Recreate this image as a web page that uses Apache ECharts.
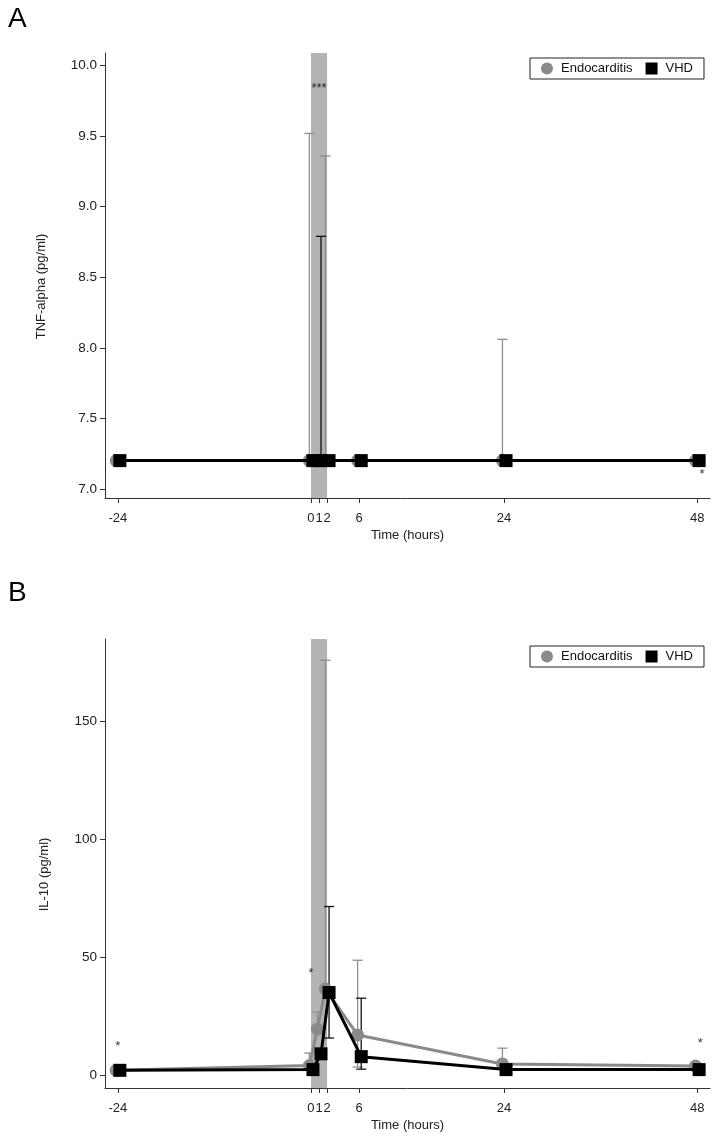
<!DOCTYPE html>
<html><head><meta charset="utf-8">
<script src="https://cdn.jsdelivr.net/npm/echarts@6/dist/echarts.min.js"></script>
<style>html,body{margin:0;padding:0;background:#fff}#c{width:714px;height:1142px}</style>
</head><body><div id="c"></div>
<script>
// ---- data ----
const timePoints = [-24, 0, 1, 2, 6, 24, 48];
const xTickLabels = ['-24', '0', '1', '2', '6', '24', '48'];
const seriesNames = ['Endocarditis', 'VHD'];

const tnfEndo = [7.2, 7.2, 7.2, 7.2, 7.2, 7.2, 7.2];
const tnfVhd = [7.2, 7.2, 7.2, 7.2, 7.2, 7.2, 7.2];
const tnfEndoUpper = [null, 9.52, null, 9.36, null, 8.06, null];
const tnfEndoLower = [null, null, null, null, null, null, null];
const tnfVhdUpper = [null, null, 8.79, null, null, null, null];
const tnfVhdLower = [null, null, null, null, null, null, null];
const tnfYTicks = [7.0, 7.5, 8.0, 8.5, 9.0, 9.5, 10.0];
const tnfStars = [[1, 9.84, '***'], [48.6, 7.1, '*']];

const il10Endo = [2.0, 4.0, 19.5, 36.5, 17.0, 4.7, 3.8];
const il10Vhd = [2.0, 2.3, 9.0, 35.0, 7.8, 2.3, 2.3];
const il10EndoUpper = [null, 9.3, 26.7, 176, 48.7, 11.4, null];
const il10EndoLower = [null, null, null, null, 3.4, null, null];
const il10VhdUpper = [null, null, null, 71.5, 32.6, null, null];
const il10VhdLower = [null, null, null, 15.7, 2.5, null, null];
const il10YTicks = [0, 50, 100, 150];
const il10Stars = [[-24, 12.3, '*'], [0, 43, '*'], [48.4, 13.5, '*']];

const surgeryWindow = [[0, 2]];

// ---- styling ----
const FONT = 'Liberation Sans, Arial, sans-serif';
const ENDO_COLOR = '#8a8a8a';
const VHD_COLOR = '#000000';
const ENDO_ERR = '#8f8f8f';
const VHD_ERR = '#111111';
const BAND = '#b3b3b3';
const ENDO_DX = -0.2, VHD_DX = 0.25;

function pts(vals, dx) { return timePoints.map((t, i) => [t + dx, vals[i]]); }
function errData(mean, up, lo, dx) {
  const out = [];
  timePoints.forEach((t, i) => {
    if (up[i] != null) {
      const bottom = lo[i] != null ? lo[i] : mean[i];
      out.push([t + dx, bottom, up[i], lo[i] != null ? 1 : 0]);
    } else if (lo[i] != null) {
      out.push([t + dx, lo[i], mean[i], 2]);
    }
  });
  return out;
}
function errSeries(idx, data, color) {
  return {
    type: 'custom', xAxisIndex: idx, yAxisIndex: idx, z: 2, silent: true,
    data: data,
    renderItem: function (params, api) {
      const x = api.value(0), lo = api.value(1), hi = api.value(2), mode = api.value(3);
      const p1 = api.coord([x, lo]), p2 = api.coord([x, hi]);
      const cw = 5;
      const st = { stroke: color, lineWidth: 1.3 };
      const ch = [{ type: 'line', shape: { x1: p1[0], y1: p1[1], x2: p2[0], y2: p2[1] }, style: st }];
      if (mode !== 2) ch.push({ type: 'line', shape: { x1: p2[0] - cw, y1: p2[1], x2: p2[0] + cw, y2: p2[1] }, style: st });
      if (mode >= 1) ch.push({ type: 'line', shape: { x1: p1[0] - cw, y1: p1[1], x2: p1[0] + cw, y2: p1[1] }, style: st });
      return { type: 'group', children: ch };
    }
  };
}
function bandSeries(idx) {
  return {
    type: 'custom', xAxisIndex: idx, yAxisIndex: idx, z: 1, silent: true,
    data: surgeryWindow,
    renderItem: function (params, api) {
      const cs = params.coordSys;
      const a = api.coord([api.value(0), 0])[0];
      const b = api.coord([api.value(1), 0])[0];
      return { type: 'rect', shape: { x: a, y: cs.y, width: b - a, height: cs.height }, style: { fill: BAND } };
    }
  };
}
function starSeries(idx, data) {
  return {
    type: 'scatter', xAxisIndex: idx, yAxisIndex: idx, z: 6, silent: true,
    symbolSize: 0, data: data.map(d => ({ value: [d[0], d[1]], label: { formatter: d[2] } })),
    label: { show: true, position: 'inside', fontFamily: FONT, fontSize: 13, color: '#000' }
  };
}
function lineSeries(name, idx, data, color, symbol) {
  return {
    name: name, type: 'line', xAxisIndex: idx, yAxisIndex: idx,
    z: name === 'VHD' ? 5 : 4,
    data: data, symbol: symbol, symbolSize: 13, showSymbol: true,
    itemStyle: { color: color, borderWidth: 0 },
    lineStyle: { color: color, width: 3 },
    emphasis: { disabled: true }
  };
}
function xAxis(idx) {
  return {
    type: 'value', gridIndex: idx, min: -25.6, max: 49.6,
    name: 'Time (hours)', nameLocation: 'middle', nameGap: 31,
    nameTextStyle: { fontFamily: FONT, fontSize: 13, color: '#222' },
    axisLine: { show: true, onZero: false, lineStyle: { color: '#333', width: 1 } },
    axisTick: { show: true, length: 5, customValues: timePoints, lineStyle: { color: '#333' } },
    axisLabel: { customValues: timePoints, hideOverlap: false, margin: 14, fontFamily: FONT, fontSize: 13, color: '#222',
      formatter: v => xTickLabels[timePoints.indexOf(v)] },
    splitLine: { show: false }
  };
}
function yAxis(idx, name, min, max, ticks, digits, gap) {
  return {
    type: 'value', gridIndex: idx, min: min, max: max,
    name: name, nameLocation: 'middle', nameGap: gap,
    nameTextStyle: { fontFamily: FONT, fontSize: 13, color: '#222', padding: [0, 22, 0, 0] },
    axisLine: { show: true, onZero: false, lineStyle: { color: '#333', width: 1 } },
    axisTick: { show: true, length: 5, customValues: ticks, lineStyle: { color: '#333' } },
    axisLabel: { customValues: ticks, margin: 8, fontFamily: FONT, fontSize: 13.5, color: '#222',
      formatter: v => v.toFixed(digits) },
    splitLine: { show: false }
  };
}
function legend(top) {
  return {
    top: top, left: 530, orient: 'horizontal',
    borderColor: '#222', borderWidth: 1, padding: [4, 11, 4, 11],
    itemWidth: 12, itemHeight: 12, itemGap: 13,
    textStyle: { fontFamily: FONT, fontSize: 13, color: '#111', padding: [0, 0, 0, 3] },
    data: [{ name: seriesNames[0], icon: 'circle' }, { name: seriesNames[1], icon: 'rect' }],
    selectedMode: false
  };
}

const option = {
  animation: false,
  backgroundColor: '#fff',
  title: [
    { text: 'A', left: 3, top: 0, textStyle: { fontFamily: FONT, fontSize: 28, fontWeight: 'normal', color: '#000' } },
    { text: 'B', left: 3, top: 574, textStyle: { fontFamily: FONT, fontSize: 28, fontWeight: 'normal', color: '#000' } }
  ],
  legend: [legend(58), legend(646)],
  grid: [
    { left: 105, top: 53, width: 605, height: 445 },
    { left: 105, top: 639, width: 605, height: 449 }
  ],
  xAxis: [xAxis(0), xAxis(1)],
  yAxis: [
    yAxis(0, 'TNF-alpha (pg/ml)', 6.935, 10.09, tnfYTicks, 1, 57),
    yAxis(1, 'IL-10 (pg/ml)', -5.5, 185, il10YTicks, 0, 54)
  ],
  series: [
    bandSeries(0),
    errSeries(0, errData(tnfEndo, tnfEndoUpper, tnfEndoLower, ENDO_DX), ENDO_ERR),
    errSeries(0, errData(tnfVhd, tnfVhdUpper, tnfVhdLower, VHD_DX), VHD_ERR),
    lineSeries(seriesNames[0], 0, pts(tnfEndo, ENDO_DX), ENDO_COLOR, 'circle'),
    lineSeries(seriesNames[1], 0, pts(tnfVhd, VHD_DX), VHD_COLOR, 'rect'),
    starSeries(0, tnfStars),
    bandSeries(1),
    errSeries(1, errData(il10Endo, il10EndoUpper, il10EndoLower, ENDO_DX), ENDO_ERR),
    errSeries(1, errData(il10Vhd, il10VhdUpper, il10VhdLower, VHD_DX), VHD_ERR),
    lineSeries(seriesNames[0], 1, pts(il10Endo, ENDO_DX), ENDO_COLOR, 'circle'),
    lineSeries(seriesNames[1], 1, pts(il10Vhd, VHD_DX), VHD_COLOR, 'rect'),
    starSeries(1, il10Stars)
  ]
};
const chart = echarts.init(document.getElementById('c'), null, { renderer: 'canvas' });
chart.setOption(option);
</script>
</body></html>
